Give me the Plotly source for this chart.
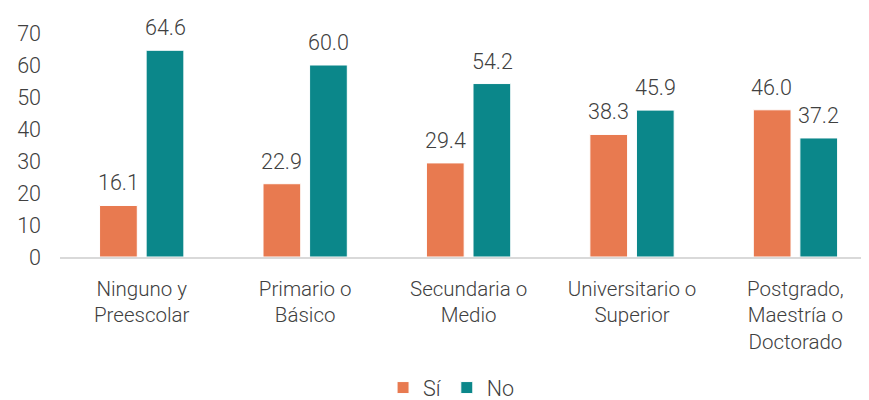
#$ Import necessary libraries
import plotly.graph_objects as go

#@ Data
categorias = ['Ninguno y<br>Preescolar', 'Primario o<br>Básico', 'Secundaria o<br>Medio',
              'Universitario o<br>Superior', 'Postgrado,<br>Maestría o<br>Doctorado']
si = [16.1, 22.9, 29.4, 38.3, 46.0]
no = [64.6, 60.0, 54.2, 45.9, 37.2]
y_ticks = [0, 10, 20, 30, 40, 50, 60, 70]

#@ Styles
naranja = '#E87A50'
verde = '#0B878A'
gris_txt = '#404040'
fuente = dict(family='Roboto', size=21.5, color=gris_txt, weight=300)
fuente_cat = dict(family='Roboto', size=20.5, color=gris_txt, weight=300)

#$ Build figure
fig = go.Figure()
fig.add_trace(go.Bar(x=categorias, y=si, name='Sí', marker=dict(color=naranja, line=dict(color='white', width=1))))
fig.add_trace(go.Bar(x=categorias, y=no, name='No', marker=dict(color=verde, line=dict(color='white', width=1))))

#@ Data labels above each bar
for serie, shift in [(si, -23.5), (no, 23.5)]:
    for cat, val in zip(categorias, serie):
        fig.add_annotation(x=cat, y=val, text=f'{val:.1f}', showarrow=False,
                           xshift=shift, yshift=8, yanchor='bottom', font=fuente)

#! page body has an 8px margin, so the figure is a bit smaller than the window
fig.update_layout(
    width=861, height=392,
    margin=dict(l=52, r=0, t=25, b=143, autoexpand=False),
    paper_bgcolor='white', plot_bgcolor='white',
    barmode='group', bargap=0.43, bargroupgap=0.19,
    font=fuente,
    showlegend=True,
    legend=dict(orientation='h', x=0.484, xanchor='center', y=-0.583, yanchor='middle',
                font=fuente, itemwidth=30, tracegroupgap=0),
)
fig.update_xaxes(range=[-0.5, 4.45], showline=True, linecolor='#D9D9D9', linewidth=2,
                 ticks='', showgrid=False, tickfont=fuente_cat, ticklabelstandoff=12)
fig.update_yaxes(range=[0, 70], tickvals=y_ticks, showline=False, showgrid=False, zeroline=False,
                 ticks='', tickfont=fuente, ticklabelstandoff=18)

fig.write_html('out.html')
